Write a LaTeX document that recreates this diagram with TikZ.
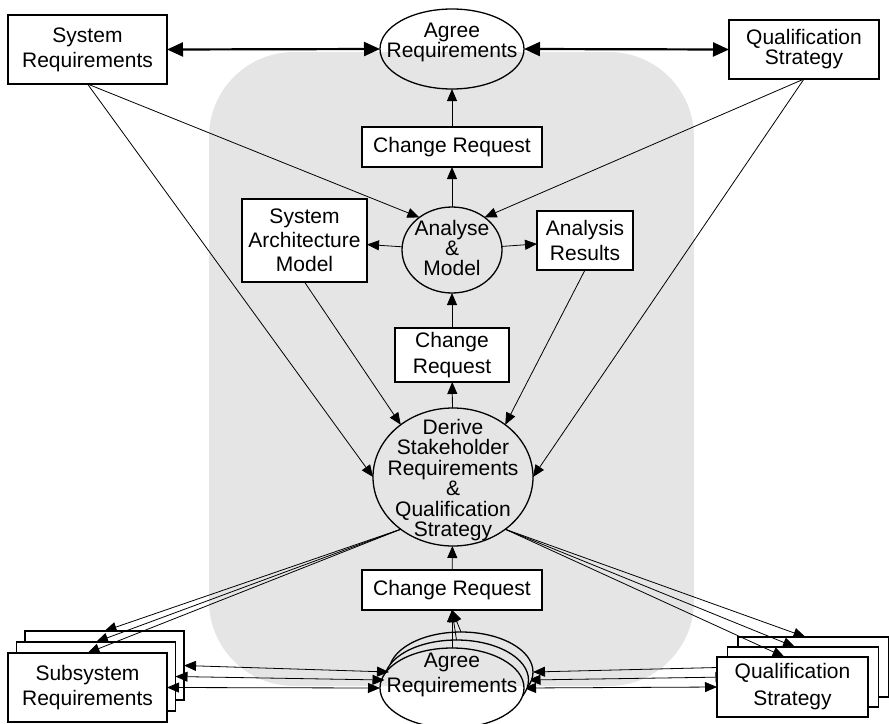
\documentclass[tikz,border=0pt]{standalone}
\usepackage{fontspec}
\setmainfont{Liberation Sans}
\usetikzlibrary{arrows.meta,shapes.geometric}
\pgfdeclarelayer{under}
\pgfsetlayers{under,main}

\begin{document}
\begin{tikzpicture}[
  x=1pt, y=-1pt,
  font=\fontsize{21pt}{25pt}\selectfont,
  >={Triangle[length=12pt,width=10pt]},
  store/.style={draw, line width=1.3pt, fill=white, inner sep=0pt, outer sep=0pt, align=center},
  activity/.style={ellipse, draw, line width=1.3pt, inner sep=0pt, outer sep=0pt},
  caption/.style={align=center, inner sep=0pt, font=\fontsize{21pt}{20pt}\selectfont},
  flow/.style={->, line width=0.8pt},
  swap/.style={<->, line width=0.8pt},
  agreelink/.style={{Triangle[length=16pt,width=14pt]}-{Triangle[length=16pt,width=14pt]}, line width=2.2pt},
  backdrop/.style={fill=gray!20, rounded corners=85pt}
]

\useasboundingbox (0,0) rectangle (889,723);

% Shaded working area.
\begin{pgfonlayer}{under}
  \fill[backdrop] (209,52) rectangle (694,686);
\end{pgfonlayer}

% Top row: agreement with the customer.
\node[store, minimum width=159pt, minimum height=69pt] (sysreq) at (87.5,49.5) {System\\Requirements};
\node[store, minimum width=150pt, minimum height=59pt, font=\fontsize{21pt}{20pt}\selectfont] (qstop) at (804,49.5) {Qualification\\Strategy};
\node[activity, minimum width=144pt, minimum height=80pt] (agree) at (452,49) {};
\node[caption] (agree-text) at (452,42) {Agree\\Requirements};

\draw[agreelink] (sysreq.east) -- (agree.west);
\draw[agreelink] (agree.east) -- (qstop.west);

% Central chain of activities.
\node[store, minimum width=180pt, minimum height=40pt] (crtop) at (452,147) {Change Request};
\node[activity, minimum width=100pt, minimum height=86pt] (analyse) at (452,250) {};
\node[caption] (analyse-text) at (452,248) {Analyse\\\&\\Model};
\node[store, minimum width=125pt, minimum height=83pt, font=\fontsize{21pt}{24pt}\selectfont] (sam) at (304.5,240.5) {System\\Architecture\\Model};
\node[store, minimum width=96pt, minimum height=59pt] (ar) at (585,240.5) {Analysis\\Results};
\node[store, minimum width=114pt, minimum height=54pt, font=\fontsize{21pt}{26pt}\selectfont] (crmid) at (452,355) {Change\\Request};
\node[activity, minimum width=160pt, minimum height=138pt] (derive) at (453,477) {};
\node[caption, font=\fontsize{21pt}{20.5pt}\selectfont] (derive-text) at (453,480)
  {Derive\\Stakeholder\\Requirements\\\&\\Qualification\\Strategy};
\node[store, minimum width=180pt, minimum height=40pt] (crbot) at (452,590) {Change Request};

\draw[flow] (crtop) -- (agree);
\draw[flow] (analyse) -- (crtop);
\draw[flow] (analyse) -- (sam);
\draw[flow] (analyse) -- (ar);
\draw[flow] (crmid) -- (analyse);
\draw[flow] (derive) -- (crmid);
\draw[flow] (crbot) -- (derive);

% Inputs from the top row.
\draw[flow] (sysreq.south) -- (analyse.135);
\draw[flow] (sysreq.south) -- (derive.west);
\draw[flow] (qstop.south) -- (analyse.45);
\draw[flow] (qstop.south) -- (derive.east);
\draw[flow] (sam.south) -- (derive.135);
\draw[flow] (ar.south) -- (derive.45);

% Stacked agreement at subsystem level.
\foreach \name/\cx/\cy in {agreeC/461/672, agreeB/456.5/680, agreeA/452/688} {
  \fill[white] (\cx,\cy) ellipse [x radius=72pt, y radius=40pt];
  \begin{scope}
    \clip (\cx,\cy) ellipse [x radius=72pt, y radius=40pt];
    \fill[backdrop] (209,52) rectangle (694,686);
  \end{scope}
  \node[activity, minimum width=144pt, minimum height=80pt] (\name) at (\cx,\cy) {};
}
\node[caption, font=\fontsize{21pt}{25pt}\selectfont] (agreeA-text) at (452,675) {Agree\\Requirements};

\foreach \name in {agreeA, agreeB, agreeC}
  \draw[flow] (\name.north) -- (crbot.south);

% Subsystem stacks.
\foreach \name/\cx/\cy in {subreqC/104.5/665.5, subreqB/96/676.5}
  \node[store, minimum width=159pt, minimum height=69pt] (\name) at (\cx,\cy) {};
\node[store, minimum width=159pt, minimum height=69pt] (subreqA) at (87.5,687.5) {Subsystem\\Requirements};

\foreach \name/\cx/\cy in {qsbotC/813.5/667, qsbotB/803/677}
  \node[store, minimum width=151pt, minimum height=60pt] (\name) at (\cx,\cy) {};
\node[store, minimum width=151pt, minimum height=60pt, font=\fontsize{21pt}{27pt}\selectfont] (qsbotA) at (792.5,687) {Qualification\\Strategy};

\foreach \layer in {A, B, C}
  \draw[swap] (subreq\layer.east) -- (agree\layer.west);
\begin{pgfonlayer}{under}
  \foreach \layer in {A, B, C}
    \draw[swap] (agree\layer.east) -- (qsbot\layer.west);
\end{pgfonlayer}

\foreach \layer in {A, B, C} {
  \draw[flow] (derive.225) -- (subreq\layer.north);
  \draw[flow] (derive.315) -- ([xshift=-8pt]qsbot\layer.north);
}

\end{tikzpicture}
\end{document}
